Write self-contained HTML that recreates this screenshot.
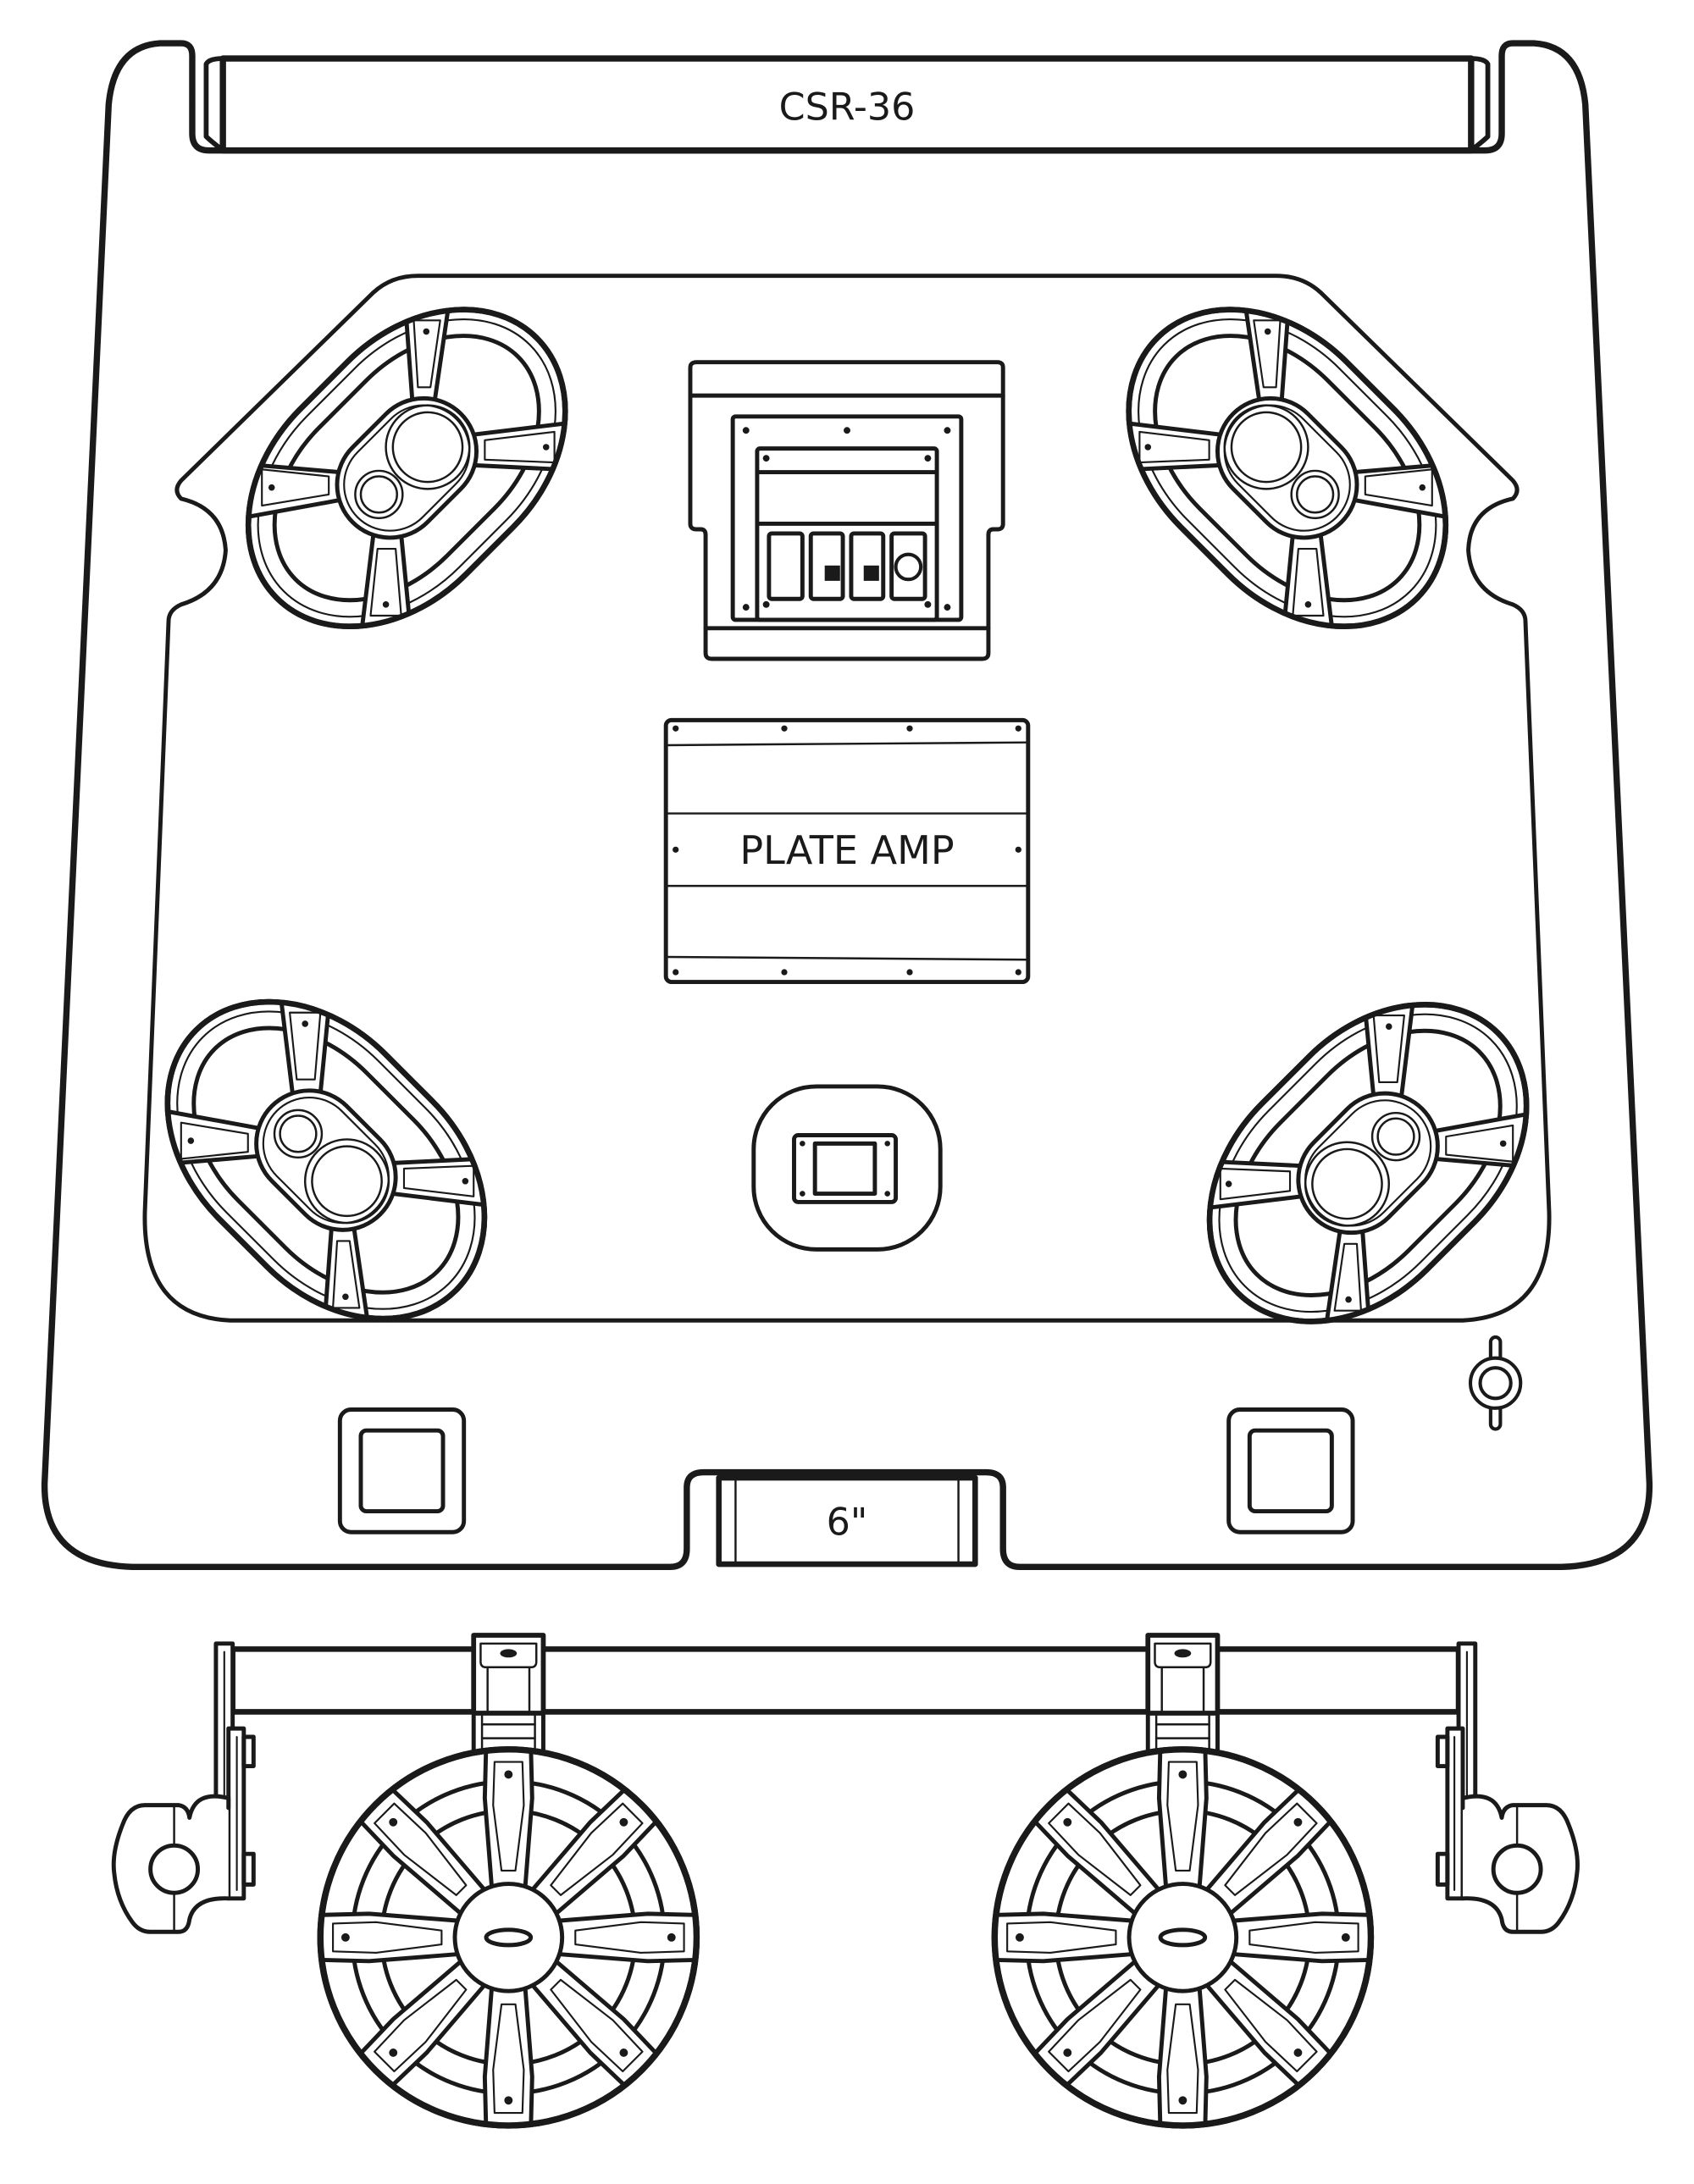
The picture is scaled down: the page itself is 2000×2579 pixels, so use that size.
<!DOCTYPE html>
<html><head><meta charset="utf-8"><style>html,body{margin:0;padding:0;background:#fff}svg{display:block}</style></head>
<body>
<svg width="2000" height="2579" viewBox="0 0 1216 1568" xmlns="http://www.w3.org/2000/svg" fill="none" stroke="#1a1a1a" stroke-linejoin="round" stroke-linecap="round">
<defs>
  <clipPath id="spkclip"><rect x="-132" y="-84" width="264" height="168" rx="108" ry="84" transform="rotate(-45)"/></clipPath>
  <g id="spk">
    <rect x="-132" y="-84" width="264" height="168" rx="108" ry="84" transform="rotate(-45)" fill="#fff" stroke-width="4"/>
    <rect x="-125" y="-77" width="250" height="154" rx="101" ry="77" transform="rotate(-45)" stroke-width="1.3"/>
    <rect x="-113" y="-65" width="226" height="130" rx="89" ry="65" transform="rotate(-45)" stroke-width="3"/>
    <g clip-path="url(#spkclip)" fill="#fff" stroke-width="3">
      <polygon points="4,-48 20,-48 32,-130 -2,-130"/>
      <polygon points="48,-24 48,-2 130,2 130,-34"/>
      <polygon points="-48,3 -48,23 -130,38 -130,-4"/>
      <polygon points="-24,48 -4,48 4,130 -34,130"/>
    </g>
    <g stroke-width="1.3">
      <polygon points="8,-58 17,-58 24,-106 5,-106"/>
      <polygon points="56,-20 56,-6 106,-4 106,-26"/>
      <polygon points="-56,6 -56,19 -104,27 -104,1"/>
      <polygon points="-21,58 -8,58 -4,106 -26,106"/>
    </g>
    <g fill="#1a1a1a" stroke="none">
      <circle cx="14" cy="-98" r="2.3"/><circle cx="100" cy="-15" r="2.3"/>
      <circle cx="-97" cy="14" r="2.3"/><circle cx="-15" cy="98" r="2.3"/>
    </g>
    <rect x="-132" y="-84" width="264" height="168" rx="108" ry="84" transform="rotate(-45)" stroke-width="4"/>
    <rect x="-55" y="-38" width="110" height="76" rx="38" transform="rotate(-45)" fill="#fff" stroke-width="3"/>
    <rect x="-50" y="-33" width="100" height="66" rx="33" transform="rotate(-45)" stroke-width="1.3"/>
    <circle cx="15" cy="-15" r="30" stroke-width="1.5"/>
    <circle cx="15" cy="-15" r="25" stroke-width="1.5"/>
    <circle cx="-20" cy="19" r="17" stroke-width="1.5"/>
    <circle cx="-20" cy="19" r="13" stroke-width="1.5"/>
  </g>
  <clipPath id="subclip"><circle cx="0" cy="0" r="134"/></clipPath>
  <g id="subspoke">
    <polygon points="-12,-36 12,-36 17,-100 16,-140 -16,-140 -17,-100" fill="#fff" stroke-width="3"/>
    <polygon points="-5,-48 5,-48 11,-95 10,-126 -10,-126 -11,-95" stroke-width="1.3"/>
    <circle cx="0" cy="-117" r="3" fill="#1a1a1a" stroke="none"/>
  </g>
  <g id="sub">
    <circle r="135" fill="#fff" stroke-width="4.5"/>
    <circle r="112" stroke-width="3"/>
    <circle r="91" stroke-width="3"/>
    <g clip-path="url(#subclip)">
      <use href="#subspoke"/>
      <use href="#subspoke" transform="rotate(45)"/>
      <use href="#subspoke" transform="rotate(90)"/>
      <use href="#subspoke" transform="rotate(135)"/>
      <use href="#subspoke" transform="rotate(180)"/>
      <use href="#subspoke" transform="rotate(225)"/>
      <use href="#subspoke" transform="rotate(270)"/>
      <use href="#subspoke" transform="rotate(315)"/>
    </g>
    <circle r="135" stroke-width="4.5"/>
    <circle r="38.5" fill="#fff" stroke-width="3"/>
    <ellipse rx="16" ry="5.5" stroke-width="3"/>
  </g>
  <g id="clampL">
    <rect x="155" y="1180" width="12" height="118" fill="#fff" stroke-width="3"/>
    <line x1="161" y1="1186" x2="161" y2="1292" stroke-width="1.3"/>
    <rect x="164" y="1241" width="11" height="122" fill="#fff" stroke-width="3"/>
    <line x1="170" y1="1247" x2="170" y2="1357" stroke-width="1.3"/>
    <rect x="175" y="1247" width="7" height="21" stroke-width="3"/>
    <rect x="175" y="1331" width="7" height="22" stroke-width="3"/>
    <path d="M164 1298 L164 1291 Q140 1285 136 1305 Q135 1297 128 1296 L104 1296 Q93 1296 88 1310 Q80 1330 82 1345 Q84 1365 95 1380 Q100 1387 108 1387 L128 1387 Q135 1387 136 1378 Q140 1362 164 1363" fill="#fff" stroke-width="3"/>
    <circle cx="125" cy="1342" r="17" fill="#fff" stroke-width="3"/>
    <line x1="125" y1="1296" x2="125" y2="1325" stroke-width="1.5"/>
    <line x1="125" y1="1359" x2="125" y2="1387" stroke-width="1.5"/>
  </g>
  <g id="mount">
    <rect x="-25" y="1228" width="50" height="32" fill="#fff" stroke-width="3"/>
    <line x1="-19" y1="1228" x2="-19" y2="1260" stroke-width="1.5"/>
    <line x1="19" y1="1228" x2="19" y2="1260" stroke-width="1.5"/>
    <line x1="-19" y1="1238" x2="19" y2="1238" stroke-width="1.5"/>
    <line x1="-19" y1="1248" x2="19" y2="1248" stroke-width="1.5"/>
    <rect x="-25" y="1174" width="50" height="56" fill="#fff" stroke-width="3.5"/>
    <path d="M-20 1180 L20 1180 L20 1193 Q20 1197 16 1197 L-16 1197 Q-20 1197 -20 1193 Z" stroke-width="1.5"/>
    <line x1="-15" y1="1197" x2="-15" y2="1228" stroke-width="1.5"/>
    <line x1="15" y1="1197" x2="15" y2="1228" stroke-width="1.5"/>
    <ellipse cx="0" cy="1187" rx="6" ry="3" fill="#1a1a1a" stroke="none"/>
  </g>
</defs>

<path d="M138 40 Q138 31 130 31 L115 31 Q82 33 78 75 L32 1065 Q31 1123 95 1125 L481 1125 Q493 1125 493 1112 L493 1068 Q493 1057 505 1057 L708 1057 Q720 1057 720 1068 L720 1112 Q720 1125 732 1125 L1121 1125 Q1185 1123 1184 1065 L1138 75 Q1134 33 1101 31 L1086 31 Q1078 31 1078 40 L1078 96 Q1078 108 1066 108 L150 108 Q138 108 138 96 Z" fill="#fff" stroke-width="4.5"/>
<path d="M160 42 L1056 42 L1056 108 L160 108 Z" stroke-width="4.5"/>
<path d="M160 42 Q150 42 148 46 L148 98 Q151 101 160 108" stroke-width="3.5"/>
<path d="M1056 42 Q1066 42 1068 46 L1068 98 Q1065 101 1056 108" stroke-width="3.5"/>
<text x="608" y="86" font-family="DejaVu Sans, sans-serif" font-size="27" fill="#1a1a1a" stroke="none" text-anchor="middle">CSR-36</text>

<rect x="516" y="1061" width="184" height="62" stroke-width="4"/>
<line x1="528" y1="1061" x2="528" y2="1123" stroke-width="1.5"/>
<line x1="688" y1="1061" x2="688" y2="1123" stroke-width="1.5"/>
<text x="608" y="1102" font-family="DejaVu Sans, sans-serif" font-size="27" fill="#1a1a1a" stroke="none" text-anchor="middle">6"</text>

<path d="M300 198 L916 198 Q935 198 948 210 L1086 345 Q1092 352 1086 358 Q1055 365 1054 395 Q1056 425 1086 434 Q1095 438 1095 446 L1112 870 Q1114 945 1050 948 L165 948 Q102 945 104 870 L121 446 Q121 438 130 434 Q160 425 162 395 Q160 365 130 358 Q124 352 130 345 L268 210 Q281 198 300 198 Z" stroke-width="3"/>

<use href="#spk" transform="translate(292,336)"/>
<use href="#spk" transform="translate(924,336) scale(-1,1)"/>
<use href="#spk" transform="translate(234,833) scale(1,-1)"/>
<use href="#spk" transform="translate(982,835) scale(-1,-1)"/>

<path d="M500 260 L716 260 Q720 260 720 264 L720 376 Q720 380 716 380 L713 380 Q709.5 380 709.5 384 L709.5 469 Q709.5 473 705 473 L511 473 Q506.5 473 506.5 469 L506.5 384 Q506.5 380 503 380 L500 380 Q495.5 380 495.5 376 L495.5 264 Q495.5 260 500 260 Z" fill="#fff" stroke-width="3"/>
<line x1="495.5" y1="284" x2="720" y2="284" stroke-width="3"/>
<line x1="506.5" y1="451" x2="709.5" y2="451" stroke-width="3"/>
<rect x="526" y="299" width="164" height="146" rx="2" stroke-width="3"/>
<rect x="543.5" y="322" width="129" height="123" rx="2" stroke-width="3"/>
<line x1="543.5" y1="339" x2="672.5" y2="339" stroke-width="3"/>
<line x1="543.5" y1="376" x2="672.5" y2="376" stroke-width="3"/>
<g fill="#1a1a1a" stroke="none">
  <circle cx="535.5" cy="309" r="2.4"/><circle cx="608" cy="309" r="2.4"/><circle cx="680" cy="309" r="2.4"/>
  <circle cx="535.5" cy="436" r="2.4"/><circle cx="680" cy="436" r="2.4"/>
  <circle cx="550" cy="329" r="2.4"/><circle cx="666" cy="329" r="2.4"/>
  <circle cx="550" cy="434" r="2.4"/><circle cx="666" cy="434" r="2.4"/>
  <rect x="592" y="406" width="11" height="11"/><rect x="620" y="406" width="11" height="11"/>
</g>
<rect x="552" y="383" width="24" height="47" rx="2" stroke-width="3"/>
<rect x="582" y="383" width="23" height="47" rx="2" stroke-width="3"/>
<rect x="611" y="383" width="23" height="47" rx="2" stroke-width="3"/>
<rect x="640" y="383" width="24" height="47" rx="2" stroke-width="3"/>
<circle cx="652" cy="407" r="9" fill="#fff" stroke-width="2.5"/>

<rect x="478" y="517" width="260" height="188" rx="4" stroke-width="3"/>
<line x1="478" y1="535" x2="738" y2="533" stroke-width="1.5"/>
<line x1="478" y1="584" x2="738" y2="584" stroke-width="1.5"/>
<line x1="478" y1="636" x2="738" y2="636" stroke-width="1.5"/>
<line x1="478" y1="687" x2="738" y2="689" stroke-width="1.5"/>
<g fill="#1a1a1a" stroke="none">
  <circle cx="485" cy="523" r="2.2"/><circle cx="563" cy="523" r="2.2"/><circle cx="653" cy="523" r="2.2"/><circle cx="731" cy="523" r="2.2"/>
  <circle cx="485" cy="610" r="2.2"/><circle cx="731" cy="610" r="2.2"/>
  <circle cx="485" cy="698" r="2.2"/><circle cx="563" cy="698" r="2.2"/><circle cx="653" cy="698" r="2.2"/><circle cx="731" cy="698" r="2.2"/>
</g>
<text x="608" y="620" font-family="DejaVu Sans, sans-serif" font-size="28" fill="#1a1a1a" stroke="none" text-anchor="middle">PLATE AMP</text>

<rect x="541" y="780" width="134" height="117" rx="45" stroke-width="3"/>
<rect x="570" y="815" width="73" height="48" rx="3" stroke-width="3"/>
<rect x="585" y="821" width="43" height="36" stroke-width="3"/>
<g fill="#1a1a1a" stroke="none">
  <circle cx="576" cy="821" r="2"/><circle cx="637" cy="821" r="2"/><circle cx="576" cy="857" r="2"/><circle cx="637" cy="857" r="2"/>
</g>

<rect x="244" y="1012" width="89" height="88" rx="8" stroke-width="3"/>
<rect x="259" y="1027" width="59" height="58" rx="4" stroke-width="3"/>
<rect x="882" y="1012" width="89" height="88" rx="8" stroke-width="3"/>
<rect x="897" y="1027" width="59" height="58" rx="4" stroke-width="3"/>

<rect x="1070" y="960" width="7" height="66" rx="3.5" stroke-width="2.5" fill="#fff"/>
<circle cx="1073.5" cy="993" r="18" fill="#fff" stroke-width="2.5"/>
<circle cx="1073.5" cy="993" r="11" stroke-width="2.5"/>

<rect x="167" y="1184" width="880" height="45" fill="#fff" stroke-width="4"/>
<use href="#clampL"/>
<use href="#clampL" transform="translate(1214,0) scale(-1,1)"/>
<use href="#mount" transform="translate(365,0)"/>
<use href="#mount" transform="translate(849,0)"/>
<use href="#sub" transform="translate(365,1391)"/>
<use href="#sub" transform="translate(849,1391)"/>
</svg>
</body></html>
